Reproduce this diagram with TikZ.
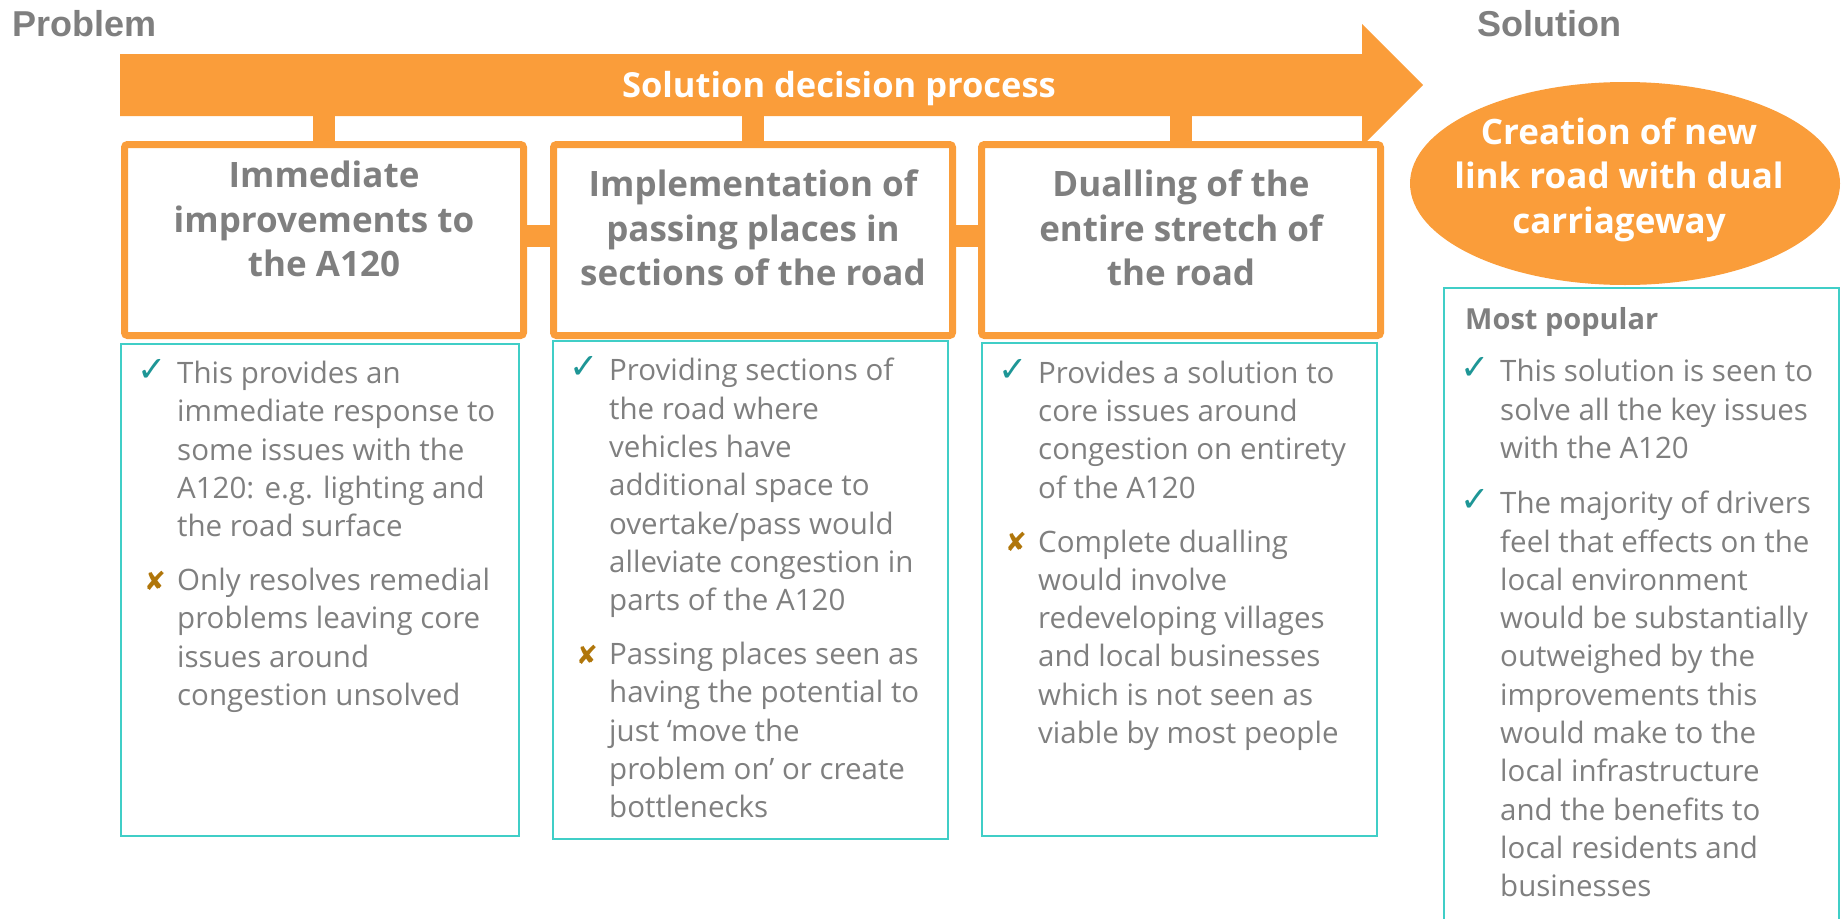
\documentclass[tikz,border=0pt]{standalone}
\usepackage{fontspec}
\setmainfont{Open Sans}
\newfontfamily\arialfont{Liberation Sans}
\newfontfamily\symfont{DejaVu Sans}
\usepackage{xcolor}
\usetikzlibrary{positioning,calc,shapes.geometric}
\definecolor{RoadOrange}{RGB}{250,157,58}
\definecolor{TextGray}{RGB}{127,127,127}
\definecolor{ListTeal}{RGB}{64,206,199}
\definecolor{TickTeal}{RGB}{30,150,150}
\definecolor{CrossGold}{RGB}{176,118,10}

\begin{document}
\begin{tikzpicture}[x=1pt, y=-1pt,
		optbox/.style={draw=RoadOrange, line width=7pt, rounded corners=3pt, minimum width=399pt, minimum height=191pt, inner sep=0pt},
		optitle/.style={font=\fontsize{35}{44.5}\selectfont\bfseries, text=TextGray, align=center, inner sep=0pt, anchor=north},
		listbox/.style={draw=ListTeal, line width=2pt, inner sep=0pt},
		listtext/.style={font=\fontsize{29.5}{38.3}\selectfont, text=TextGray, align=left, inner sep=0pt, anchor=north west},
		tickmark/.style={font=\symfont\fontsize{35}{35}\selectfont, text=TickTeal, inner sep=0pt},
		crossmark/.style={font=\symfont\fontsize{26}{26}\selectfont, text=CrossGold, inner sep=0pt},
		tabbar/.style={draw=RoadOrange, line width=22pt},
		sidelabel/.style={font=\arialfont\bfseries\fontsize{36}{36}\selectfont, text=TextGray, inner sep=0pt, anchor=base west}
		]
		\useasboundingbox (0,0) rectangle (1846,918);
		\clip (0,0) rectangle (1846,918);
		
		% ===== Problem / Solution =====
		\node[sidelabel] (problem) at (12,36) {Problem};
		\node[sidelabel] (solution) at (1477,36) {Solution};
		
		% ===== mũi tên lớn =====
		\fill[RoadOrange] (120,54) -- (1362,54) -- (1362,24) -- (1423,85) -- (1362,146) -- (1362,116) -- (120,116) -- cycle;
		\coordinate (shaft) at (120,116);
		\node[font=\fontsize{34.5}{40}\selectfont\bfseries, text=white, inner sep=0pt, anchor=base] (process) at (839,97.5) {Solution decision process};
		
		% ===== 3 phương án =====
		\node[optbox] (box1) at (324,240) {};
		\node[optbox] (box2) at (753,240) {};
		\node[optbox] (box3) at (1181,240) {};
		
		\foreach \b in {box1,box2,box3}{
			\draw[tabbar] (\b.north |- shaft) -- (\b.north);
		}
		\draw[tabbar] ([yshift=4.5pt]box1.east) -- ([yshift=4.5pt]box2.west);
		\draw[tabbar] ([yshift=4.5pt]box2.east) -- ([yshift=4.5pt]box3.west);
		
		\node[optitle] (title1) at ($(box1.north)+(0,15.2)$) {\strut Immediate\\improvements to\\the A120};
		\node[optitle] (title2) at ($(box2.north)+(0,24.5)$) {\strut Implementation of\\passing places in\\sections of the road};
		\node[optitle] (title3) at ($(box3.north)+(0,24.5)$) {\strut Dualling of the\\entire stretch of\\the road};
		
		% ===== giải pháp =====
		\node[ellipse, fill=RoadOrange, minimum width=430pt, minimum height=203pt, inner sep=0pt] (newroad) at (1625,183.5) {};
		\node[optitle, text=white] (roadtext) at (1619,112.9) {\strut Creation of new\\link road with dual\\carriageway};
		
		% ===== các ô ý kiến =====
		\node[listbox, minimum width=398pt, minimum height=492pt] (list1) at (320,590) {};
		\node[listbox, minimum width=395pt, minimum height=498pt] (list2) at (750.5,590) {};
		\node[listbox, minimum width=395pt, minimum height=493pt] (list3) at (1179.5,589.5) {};
		\node[listbox, minimum width=395pt, minimum height=672pt] (list4) at (1641.5,624) {};
		
		\node[listtext] (pro1) at ($(list1.north west)+(57,13.5)$) {\strut This provides an\\immediate response to\\some issues with the\\A120: e.g. lighting and\\the road surface\strut};
		\node[listtext] (con1) at ($(pro1.south west)+(0,15.2)$) {\strut Only resolves remedial\\problems leaving core\\issues around\\congestion unsolved\strut};
		
		\node[listtext] (pro2) at ($(list2.north west)+(57,13.9)$) {\strut Providing sections of\\the road where\\vehicles have\\additional space to\\overtake/pass would\\alleviate congestion in\\parts of the A120\strut};
		\node[listtext] (con2) at ($(pro2.south west)+(0,15.2)$) {\strut Passing places seen as\\having the potential to\\just ‘move the\\problem on’ or create\\bottlenecks\strut};
		
		\node[listtext] (pro3) at ($(list3.north west)+(57,14.2)$) {\strut Provides a solution to\\core issues around\\congestion on entirety\\of the A120\strut};
		\node[listtext] (con3) at ($(pro3.south west)+(0,15.2)$) {\strut Complete dualling\\would involve\\redeveloping villages\\and local businesses\\which is not seen as\\viable by most people\strut};
		
		\node[font=\fontsize{29}{35}\selectfont\bfseries, text=TextGray, inner sep=0pt, anchor=base west] (popular) at ($(list4.north west)+(22,42)$) {Most popular};
		\node[listtext] (pro4a) at ($(list4.north west)+(57,67.9)$) {\strut This solution is seen to\\solve all the key issues\\with the A120\strut};
		\node[listtext] (pro4b) at ($(pro4a.south west)+(0,16.5)$) {\strut The majority of drivers\\feel that effects on the\\local environment\\would be substantially\\outweighed by the\\improvements this\\would make to the\\local infrastructure\\and the benefits to\\local residents and\\businesses\strut};
		
		% ===== dấu tích / dấu chéo =====
		\foreach \p in {pro1,pro2,pro3,pro4a,pro4b}{
			\node[tickmark] (tick-\p) at ($(\p.north west)+(-24.5,13.8)$) {✓};
		}
		\foreach \c in {con1,con2,con3}{
			\node[crossmark] (cross-\c) at ($(\c.north west)+(-22,16.8)$) {✘};
		}
		
	\end{tikzpicture}
\end{document}
